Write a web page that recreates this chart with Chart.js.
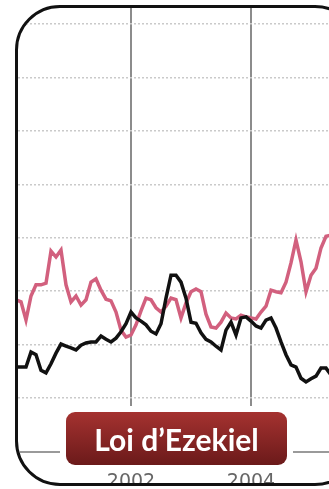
<!DOCTYPE html>
<html lang="fr">
<head>
<meta charset="UTF-8">
<title>Loi d'Ezekiel</title>
<script src="https://cdn.jsdelivr.net/npm/chart.js"></script>
<style>
  html, body { margin: 0; padding: 0; background: #fff; }
  body { width: 329px; height: 489px; position: relative; overflow: hidden; }
  .carte {
    position: absolute; left: 15px; top: 5px;
    width: 339px; height: 475px;
    border: 3px solid #111; border-radius: 45px;
    overflow: hidden; background: #fff;
  }
  .grafico { position: absolute; left: 0; top: 0; width: 339px; height: 475px; }
  .etiquette {
    position: absolute; left: 66px; top: 412px; width: 221px; height: 53px;
    border-radius: 9px;
    background: linear-gradient(#a53230, #6b1a1a);
    box-shadow: 0 0 0 6px #fff;
    color: #fff; font-family: Lato, sans-serif; font-weight: bold; font-size: 30px;
    display: flex; align-items: center; justify-content: center;
  }
</style>
</head>
<body>
<div class="carte">
  <div class="grafico"><canvas id="myChart"></canvas></div>
</div>
<div class="etiquette">Loi d’Ezekiel</div>

<script>
// mensuel, à partir de février 2000
const startYear = 2000;
const startMonth = 2;
const yearTicks = [2002, 2004];

const serieRose = [18.4, 18.0, 14.6, 19.1, 21.2, 21.2, 21.5, 27.5, 26.4, 27.7,
  21.2, 18.0, 19.1, 17.4, 18.4, 21.7, 22.3, 20.2, 18.5, 18.2,
  16.1, 12.7, 11.4, 11.8, 13.7, 16.3, 18.7, 18.4, 16.9, 16.1,
  17.2, 18.7, 18.4, 15.0, 17.8, 19.9, 20.4, 19.9, 15.7, 13.3,
  13.1, 14.2, 15.9, 15.0, 14.8, 15.5, 15.2, 15.0, 14.8, 16.1,
  17.2, 20.2, 19.9, 19.7, 21.7, 25.3, 29.6, 25.5, 19.9, 23.0,
  24.3, 28.1, 30.3, 30.5];

const serieNoire = [5.8, 5.8, 5.8, 8.6, 8.1, 5.2, 4.7, 6.4, 8.4, 10.1,
  9.7, 9.4, 9.0, 9.9, 10.3, 10.5, 10.5, 11.6, 11.0, 10.5,
  11.2, 12.4, 13.9, 16.1, 15.0, 14.4, 13.7, 12.5, 12.0, 13.9,
  18.7, 23.0, 23.0, 21.7, 18.7, 14.2, 14.0, 12.2, 11.0, 10.5,
  9.7, 9.0, 12.7, 14.2, 11.8, 15.0, 15.2, 14.4, 13.5, 13.1,
  14.6, 15.0, 13.1, 10.5, 8.1, 6.2, 5.8, 3.7, 3.0, 3.6,
  4.1, 5.6, 5.6, 4.3];

function paraPontos(valores) {
  return valores.map((v, i) => ({ x: startYear + (startMonth - 1 + i) / 12, y: v }));
}

const data = {
  datasets: [
    { label: 'noir', data: paraPontos(serieNoire), borderColor: '#111', borderWidth: 3.5 },
    { label: 'rose', data: paraPontos(serieRose), borderColor: '#d2607e', borderWidth: 3.5 }
  ]
};

const config = {
  type: 'line',
  data: data,
  options: {
    responsive: true,
    maintainAspectRatio: false,
    animation: false,
    events: [],
    elements: { point: { radius: 0 }, line: { tension: 0 } },
    layout: { padding: 0 },
    plugins: { legend: { display: false }, tooltip: { enabled: false } },
    scales: {
      x: {
        type: 'linear',
        min: 2000.1167,
        max: 2005.7667,
        afterBuildTicks: (scale) => { scale.ticks = yearTicks.map(v => ({ value: v })); },
        afterFit: (scale) => { scale.height = 31; },
        grid: { color: '#8c8c8c', lineWidth: 2, drawTicks: false },
        border: { display: true, color: '#9a9a9a', width: 2 },
        ticks: {
          padding: 19,
          color: '#666',
          font: { family: 'DejaVu Sans', size: 19 },
          callback: (v) => String(v)
        }
      },
      y: {
        min: -10.11,
        max: 73.03,
        afterBuildTicks: (scale) => {
          scale.ticks = [0, 10, 20, 30, 40, 50, 60, 70].map(v => ({ value: v }));
        },
        grid: { color: '#cacaca', lineWidth: 1.5, drawTicks: false },
        border: { display: false, dash: [2, 2] },
        ticks: { display: false }
      }
    }
  }
};

const grafico = new Chart(document.getElementById('myChart'), config);
</script>
</body>
</html>
